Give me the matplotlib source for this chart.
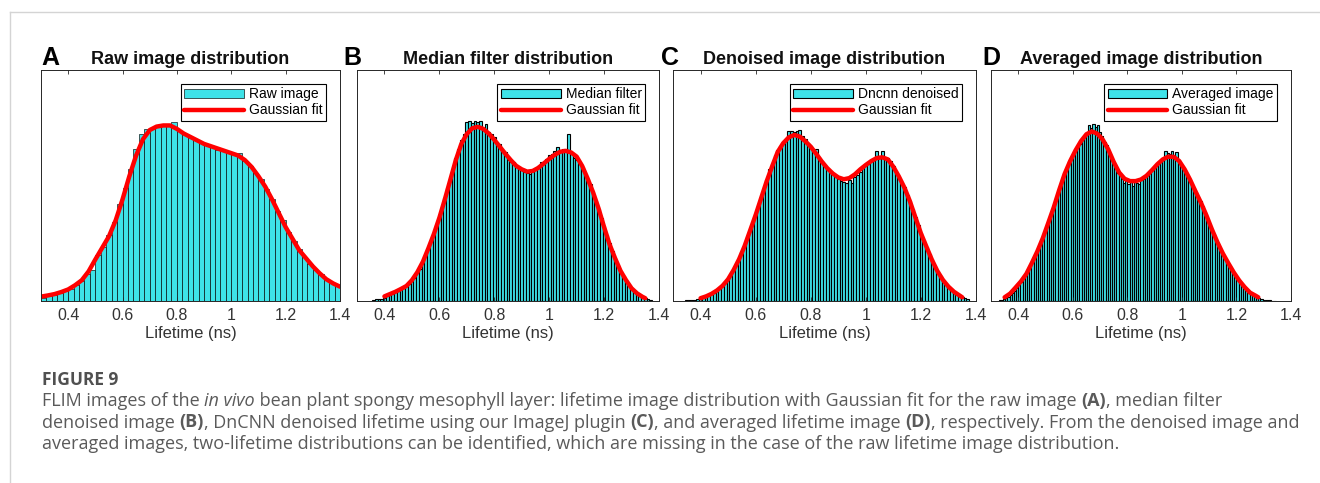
import numpy as np
import matplotlib
matplotlib.use("Agg")
import matplotlib.pyplot as plt
from matplotlib.lines import Line2D
from matplotlib.ticker import FormatStrFormatter

plt.rcParams['font.family'] = ['Liberation Sans', 'DejaVu Sans']

W, H = 1320, 483

# ---- data (relative counts, % of axis height) ----
raw_start, raw_width = 0.31, 0.02
raw_counts = [1.5, 2.0, 2.6, 3.3, 4.2, 5.2, 6.8, 8.5, 11.5, 13.5,
              20.0, 23.5, 28.5, 34.0, 42.0, 49.0, 57.0, 66.0, 72.5, 74.5,
              75.0, 75.5, 76.0, 76.5, 77.5, 73.5, 72.5, 71.0, 69.5, 68.5,
              67.5, 66.5, 65.5, 65.0, 64.2, 64.2, 64.2, 60.5, 58.5, 55.5,
              53.0, 48.5, 44.0, 39.0, 35.0, 30.0, 26.0, 22.5, 19.0, 16.0,
              13.5, 11.5, 9.5, 8.0, 6.5]
raw_fit_x = [0.30, 0.325, 0.35, 0.375, 0.40, 0.425, 0.45, 0.475, 0.50, 0.525,
             0.55, 0.575, 0.60, 0.625, 0.65, 0.675, 0.70, 0.725, 0.75, 0.775,
             0.80, 0.825, 0.85, 0.875, 0.90, 0.925, 0.95, 0.975, 1.00, 1.025,
             1.05, 1.075, 1.10, 1.125, 1.15, 1.175, 1.20, 1.225, 1.25, 1.275,
             1.30, 1.325, 1.35, 1.375, 1.40]
raw_fit_y = [1.9, 2.4, 3.0, 3.9, 5.0, 6.8, 9.0, 12.8, 18.0, 23.0,
             28.0, 35.0, 44.0, 54.0, 63.0, 70.0, 74.0, 75.5, 76.0, 76.0,
             74.5, 72.5, 71.0, 69.5, 68.0, 67.0, 66.0, 65.0, 64.0, 63.0,
             61.0, 58.0, 54.0, 49.5, 44.0, 38.0, 32.0, 27.0, 22.0, 18.5,
             15.0, 12.0, 9.4, 7.6, 6.2]

med_start, med_width = 0.36, 0.01
med_counts = [0.5, 0.7, 0.9, 0.8, 1.5, 2.0, 2.6, 3.2, 3.8, 4.3,
              5.0, 5.5, 6.4, 7.2, 8.5, 10.0, 12.0, 14.0, 16.5, 19.5,
              22.5, 26.0, 29.5, 33.0, 36.5, 40.5, 44.5, 49.0, 53.0, 57.5,
              62.0, 66.0, 69.5, 72.5, 77.5, 78.0, 77.0, 78.0, 77.5, 78.0,
              75.0, 76.5, 73.0, 72.5, 71.0, 69.0, 68.0, 65.0, 64.5, 61.0,
              60.0, 60.0, 58.0, 57.5, 57.0, 56.0, 55.5, 55.0, 56.5, 57.0,
              58.5, 60.0, 59.5, 61.5, 63.0, 63.5, 65.0, 66.5, 65.0, 66.0,
              65.5, 72.5, 63.5, 62.0, 61.0, 59.5, 58.0, 55.0, 53.0, 50.5,
              46.5, 43.5, 40.0, 36.0, 32.5, 28.5, 25.0, 21.5, 18.5, 15.5,
              13.0, 11.0, 9.0, 7.0, 5.5, 4.5, 3.5, 2.6, 2.0, 1.4,
              1.0, 0.6]
med_fit_x = [0.40, 0.42, 0.44, 0.46, 0.48, 0.50, 0.52, 0.54, 0.56, 0.58,
             0.60, 0.62, 0.64, 0.66, 0.68, 0.70, 0.72, 0.74, 0.76, 0.78,
             0.80, 0.82, 0.84, 0.86, 0.88, 0.90, 0.92, 0.94, 0.96, 0.98,
             1.00, 1.02, 1.04, 1.06, 1.08, 1.10, 1.12, 1.14, 1.16, 1.18,
             1.20, 1.22, 1.24, 1.26, 1.28, 1.30, 1.32, 1.34, 1.35]
med_fit_y = [2.0, 3.0, 4.0, 5.2, 6.5, 9.0, 12.5, 17.0, 22.8, 29.0,
             36.0, 44.0, 52.5, 61.0, 68.0, 72.3, 74.8, 75.4, 74.5, 72.5,
             69.8, 66.8, 63.8, 61.0, 58.5, 57.0, 56.0, 56.3, 57.6, 59.5,
             61.5, 63.3, 64.6, 65.0, 64.3, 62.5, 58.5, 53.0, 47.0, 40.0,
             32.0, 24.5, 18.5, 13.0, 9.0, 5.5, 3.3, 1.8, 1.2]

dn_start, dn_width = 0.35, 0.01
dn_counts = [0.3, 0.6, 0.4, 0.6, 0.8, 1.2, 1.6, 2.0, 2.6, 3.0,
             3.6, 4.5, 5.4, 6.5, 7.8, 9.5, 11.0, 13.5, 15.5, 18.0,
             21.0, 24.0, 27.5, 30.5, 34.0, 37.5, 41.0, 45.0, 48.5, 52.5,
             57.0, 59.5, 63.0, 65.5, 67.0, 69.0, 70.0, 73.5, 73.5, 73.0,
             73.5, 74.0, 71.5, 70.0, 68.5, 67.0, 65.5, 66.0, 62.5, 60.5,
             59.0, 57.5, 55.5, 55.0, 53.5, 53.0, 52.0, 51.5, 51.0, 52.5,
             51.0, 53.5, 54.5, 56.0, 57.5, 58.5, 59.5, 60.5, 61.0, 65.0,
             62.0, 65.0, 62.5, 62.0, 60.5, 58.5, 55.5, 53.5, 51.0, 49.5,
             46.0, 43.5, 40.0, 36.5, 33.0, 29.5, 26.0, 23.5, 20.5, 18.0,
             15.0, 13.0, 11.0, 9.0, 7.5, 6.0, 5.0, 4.0, 3.0, 2.5,
             1.8, 1.2, 0.8]
dn_fit_x = med_fit_x
dn_fit_y = [1.2, 2.0, 3.1, 4.6, 6.6, 9.4, 13.4, 18.1, 23.8, 30.5,
            37.2, 44.5, 51.8, 58.3, 64.5, 68.3, 70.8, 71.9, 71.2, 69.2,
            66.8, 63.7, 60.4, 57.5, 55.2, 53.5, 52.7, 53.2, 54.8, 57.0,
            58.9, 60.6, 61.9, 62.2, 61.3, 58.1, 53.9, 49.1, 43.2, 36.2,
            29.3, 23.5, 17.8, 12.9, 9.1, 6.2, 4.0, 2.4, 1.6]

avg_start, avg_width = 0.332, 0.008
avg_counts = [0.4, 0.6, 0.9, 1.3, 1.8, 2.6, 3.4, 4.5, 5.6, 7.0,
              8.2, 9.8, 11.5, 13.5, 15.8, 17.5, 19.5, 21.8, 23.5, 26.0,
              28.0, 30.5, 33.0, 35.5, 38.5, 41.5, 44.5, 47.5, 50.0, 53.0,
              55.5, 57.5, 60.5, 62.0, 64.5, 65.5, 66.5, 68.0, 69.5, 71.0,
              72.0, 76.0, 75.0, 76.5, 75.5, 76.0, 73.0, 71.5, 69.0, 67.5,
              64.0, 62.0, 59.5, 58.0, 55.5, 54.5, 53.0, 51.0, 52.5, 50.5,
              51.5, 50.0, 52.0, 51.0, 50.5, 52.5, 53.0, 54.0, 54.5, 56.5,
              57.0, 58.5, 59.0, 60.5, 61.0, 61.5, 65.0, 64.0, 63.5, 65.0,
              63.0, 64.5, 61.0, 59.5, 57.5, 56.0, 54.5, 52.5, 50.5, 49.0,
              47.0, 45.0, 43.5, 41.0, 38.5, 36.0, 33.5, 31.0, 29.0, 26.5,
              24.5, 22.0, 20.0, 18.5, 17.0, 15.0, 13.5, 12.0, 10.5, 9.5,
              8.0, 7.0, 6.0, 5.0, 4.0, 3.2, 2.5, 2.0, 1.5, 1.1,
              0.8, 0.6, 0.5, 0.4, 0.3, 0.2, 0.2]
avg_fit_x = [0.35, 0.37, 0.39, 0.41, 0.43, 0.45, 0.47, 0.49, 0.51, 0.53,
             0.55, 0.57, 0.59, 0.61, 0.63, 0.65, 0.67, 0.69, 0.71, 0.73,
             0.75, 0.77, 0.79, 0.81, 0.83, 0.85, 0.87, 0.89, 0.91, 0.93,
             0.95, 0.97, 0.99, 1.01, 1.03, 1.05, 1.07, 1.09, 1.11, 1.13,
             1.15, 1.17, 1.19, 1.21, 1.23, 1.25, 1.27, 1.28]
avg_fit_y = [1.6, 3.2, 5.8, 8.5, 11.8, 16.5, 21.5, 27.2, 33.8, 40.5,
             48.0, 55.0, 60.5, 65.2, 69.2, 72.2, 73.4, 72.4, 69.8, 65.6,
             60.2, 55.6, 52.9, 51.9, 51.9, 52.6, 54.2, 56.6, 59.2, 61.3,
             62.5, 62.4, 60.6, 57.0, 52.5, 47.4, 42.5, 37.0, 31.0, 25.5,
             20.6, 16.4, 12.4, 8.9, 6.0, 3.6, 2.3, 1.6]

letters = ['A', 'B', 'C', 'D']
titles = ['Raw image distribution', 'Median filter distribution',
          'Denoised image distribution', 'Averaged image distribution']
hist_labels = ['Raw image', 'Median filter', 'Dncnn denoised', 'Averaged image']
xticks = [0.4, 0.6, 0.8, 1.0, 1.2, 1.4]

panels = [
    (raw_start, raw_width, raw_counts, raw_fit_x, raw_fit_y),
    (med_start, med_width, med_counts, med_fit_x, med_fit_y),
    (dn_start, dn_width, dn_counts, dn_fit_x, dn_fit_y),
    (avg_start, avg_width, avg_counts, avg_fit_x, avg_fit_y),
]

# axes boxes in pixels: left, right (top=70, bottom=301)
boxes = [(41, 340), (357, 659), (673, 976), (991, 1291)]
letter_x = [41, 343, 661, 982]
ax_top, ax_bot = 70, 301

fig = plt.figure(figsize=(W / 100, H / 100), dpi=100)
fig.patch.set_facecolor('white')

dark = '#262626'
for i, (start, bw, counts, fx, fy) in enumerate(panels):
    l, r = boxes[i]
    ax = fig.add_axes([l / W, 1 - ax_bot / H, (r - l) / W, (ax_bot - ax_top) / H])
    centers = start + bw * np.arange(len(counts))
    bars = ax.bar(centers, counts, width=bw, color='#3EE2E8', edgecolor='black',
                  linewidth=0.45 if i == 0 else 0.8, label=hist_labels[i])
    fit_line, = ax.plot(fx, fy, color='red', lw=3.2, label='Gaussian fit',
                        solid_capstyle='round')
    ax.set_xlim(0.3, 1.4)
    ax.set_ylim(0, 100)
    ax.set_xticks(xticks)
    ax.xaxis.set_major_formatter(FormatStrFormatter('%g'))
    ax.set_yticks([])
    ax.tick_params(axis='x', direction='in', top=True, length=3, width=0.6,
                   pad=5, labelsize=11.5, colors=dark, labelcolor='#333333')
    for sp in ax.spines.values():
        sp.set_color(dark)
        sp.set_linewidth(0.7)
    ax.set_xlabel('Lifetime (ns)', fontsize=12, color='#333333', labelpad=2)
    ax.set_title(titles[i], fontsize=13, fontweight='bold', pad=4.3, color='#111111')
    leg = ax.legend([bars, fit_line], [hist_labels[i], 'Gaussian fit'],
                    loc='upper right', fontsize=10, fancybox=False,
                    edgecolor='black', framealpha=1, handlelength=4.3,
                    handletextpad=0.35, borderpad=0.25, labelspacing=0.15,
                    borderaxespad=1.0)
    leg.get_frame().set_linewidth(0.8)
    fig.text(letter_x[i] / W, 1 - 65 / H, letters[i], fontsize=18,
             fontweight='bold', color='black', va='baseline', ha='left')

# page frame lines
fig.add_artist(Line2D([10 / W, 1], [1 - 12 / H, 1 - 12 / H], transform=fig.transFigure,
                      color='#d4d4d4', lw=1))
fig.add_artist(Line2D([10 / W, 10 / W], [0, 1 - 12 / H], transform=fig.transFigure,
                      color='#d4d4d4', lw=1))

# caption
cap_font = ['Open Sans', 'DejaVu Sans']
cap_color = '#5a5a5a'
renderer = fig.canvas.get_renderer()


def seg_width(s, props):
    t1 = fig.text(0, 0, s + '|', **props)
    w1 = t1.get_window_extent(renderer).width
    t1.remove()
    t2 = fig.text(0, 0, '|', **props)
    w2 = t2.get_window_extent(renderer).width
    t2.remove()
    return w1 - w2


def rich_line(x_px, y_px, parts, size):
    x = x_px
    for s, style in parts:
        props = dict(fontsize=size, family=cap_font, color=cap_color)
        if style == 'b':
            props['fontweight'] = 'bold'
        if style == 'i':
            props['fontstyle'] = 'italic'
        fig.text(x / W, 1 - y_px / H, s, va='baseline', ha='left', **props)
        x += seg_width(s, props)


fig.text(42 / W, 1 - 385 / H, 'FIGURE 9', fontsize=12.5, family=cap_font,
         fontweight='bold', color='#505050', va='baseline')

cap_lines = [
    [('FLIM images of the ', 'n'), ('in vivo', 'i'),
     (' bean plant spongy mesophyll layer: lifetime image distribution with Gaussian fit for the raw image ', 'n'),
     ('(A)', 'b'), (', median filter', 'n')],
    [('denoised image ', 'n'), ('(B)', 'b'),
     (', DnCNN denoised lifetime using our ImageJ plugin ', 'n'), ('(C)', 'b'),
     (', and averaged lifetime image ', 'n'), ('(D)', 'b'),
     (', respectively. From the denoised image and', 'n')],
    [('averaged images, two-lifetime distributions can be identified, which are missing in the case of the raw lifetime image distribution.', 'n')],
]
for k, parts in enumerate(cap_lines):
    rich_line(42, 406 + 21.5 * k, parts, 13)

fig.savefig('out.png', dpi=100, facecolor='white')
